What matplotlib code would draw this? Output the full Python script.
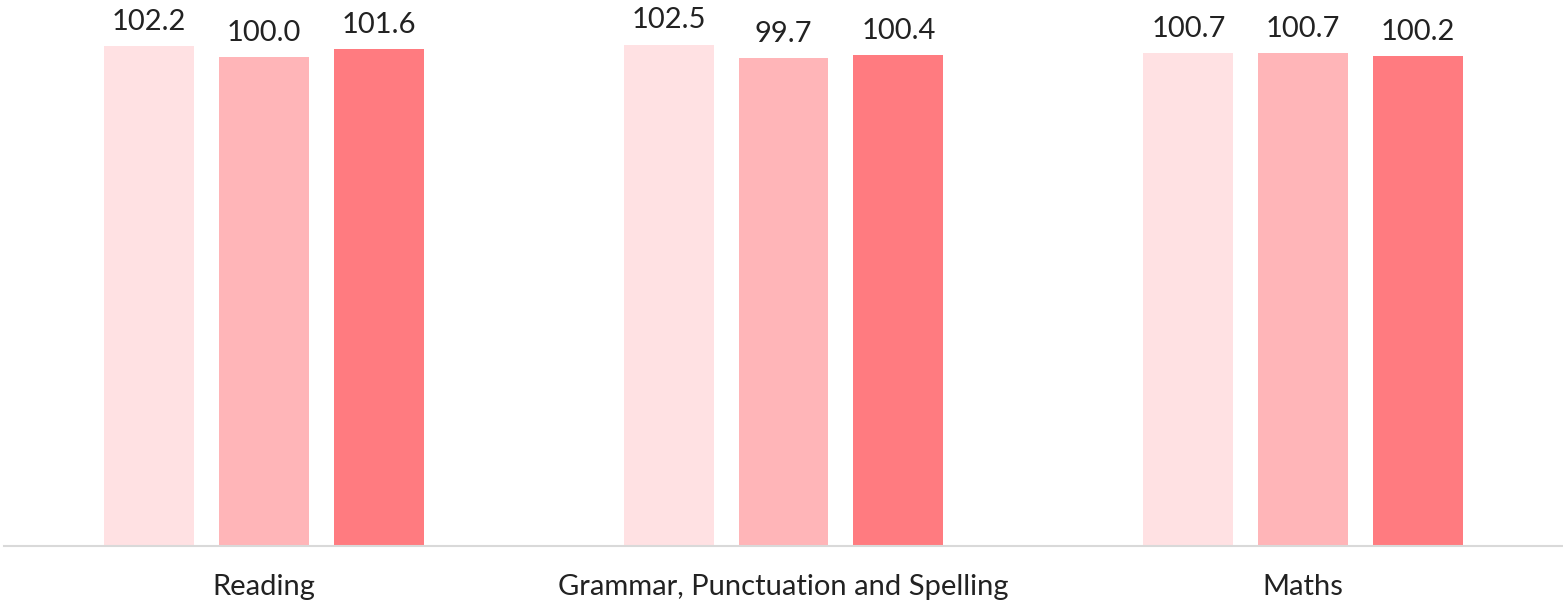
import numpy as np
import matplotlib.pyplot as plt

categories = ['Reading', 'Grammar, Punctuation and Spelling', 'Maths']
series_a = [102.2, 102.5, 100.7]
series_b = [100.0, 99.7, 100.7]
series_c = [101.6, 100.4, 100.2]
colours = ['#FFE1E3', '#FFB5B8', '#FF7B80']

plt.rcParams['font.family'] = ['Lato', 'DejaVu Sans']

fig = plt.figure(figsize=(15.63, 6.03), dpi=100)
ax = fig.add_axes([4 / 1563, 57 / 603, 1559 / 1563, 546 / 603])

x = np.arange(len(categories))
width = 0.173
pitch = 0.221
for i, (vals, col) in enumerate(zip([series_a, series_b, series_c], colours)):
    bars = ax.bar(x + (i - 1) * pitch, vals, width, color=col)
    for b, v in zip(bars, vals):
        ax.annotate(f'{v:.1f}', (b.get_x() + b.get_width() / 2, v),
                    xytext=(0, 8), textcoords='offset points',
                    ha='center', va='bottom', fontsize=21, color='#222222')

ax.set_xlim(-0.5, 2.5)
ax.set_ylim(0, 111.6)
ax.set_xticks(x)
ax.set_xticklabels(categories, fontsize=21, color='#222222')
ax.tick_params(axis='x', length=0, pad=20)
ax.set_yticks([])
for s in ['top', 'right', 'left']:
    ax.spines[s].set_visible(False)
ax.spines['bottom'].set_color('#d9d9d9')
ax.spines['bottom'].set_linewidth(1.5)

fig.savefig('out.png', dpi=100)
